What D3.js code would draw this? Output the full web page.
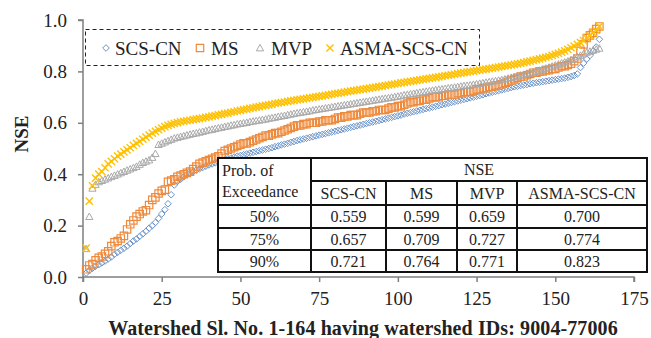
<!DOCTYPE html>
<html>
<head>
<meta charset="utf-8">
<script src="https://cdn.jsdelivr.net/npm/d3@7"></script>
<style>
  body { margin: 0; background: #fff; }
  text { font-family: "Liberation Serif", "Times New Roman", serif; }
</style>
</head>
<body>
<div id="chart"></div>
<script>
// NSE values, sorted, watershed 1..164
const scsCn = [
  0.015,0.025,0.034,0.042,0.048,0.055,0.062,0.07,0.078,0.088,
  0.096,0.104,0.112,0.12,0.13,0.14,0.148,0.158,0.168,0.178,
  0.19,0.2,0.212,0.228,0.245,0.262,0.285,0.32,0.358,0.372,
  0.38,0.39,0.398,0.405,0.41,0.416,0.421,0.426,0.431,0.436,
  0.44,0.444,0.448,0.452,0.456,0.46,0.463,0.467,0.47,0.473,
  0.476,0.479,0.482,0.485,0.488,0.491,0.494,0.497,0.5,0.503,
  0.507,0.51,0.514,0.517,0.52,0.524,0.527,0.531,0.534,0.537,
  0.54,0.543,0.546,0.549,0.552,0.555,0.558,0.561,0.564,0.567,
  0.57,0.573,0.576,0.579,0.582,0.585,0.588,0.591,0.594,0.597,
  0.6,0.603,0.606,0.609,0.612,0.615,0.618,0.621,0.624,0.627,
  0.63,0.634,0.637,0.64,0.643,0.646,0.649,0.652,0.655,0.658,
  0.661,0.664,0.667,0.67,0.673,0.676,0.679,0.682,0.685,0.688,
  0.691,0.694,0.697,0.7,0.703,0.706,0.709,0.713,0.716,0.719,
  0.722,0.725,0.728,0.731,0.734,0.737,0.74,0.742,0.745,0.747,
  0.749,0.752,0.754,0.756,0.758,0.76,0.762,0.764,0.766,0.768,
  0.77,0.772,0.774,0.777,0.78,0.784,0.79,0.815,0.832,0.848,
  0.862,0.878,0.895,0.925
];
const ms = [
  0.03,0.045,0.05,0.065,0.075,0.08,0.09,0.1,0.12,0.135,
  0.14,0.15,0.16,0.185,0.205,0.22,0.235,0.245,0.255,0.26,
  0.28,0.3,0.31,0.325,0.335,0.34,0.37,0.375,0.38,0.39,
  0.395,0.4,0.405,0.41,0.42,0.43,0.44,0.445,0.45,0.455,
  0.46,0.465,0.47,0.48,0.49,0.495,0.5,0.505,0.51,0.515,
  0.52,0.52,0.525,0.53,0.535,0.54,0.545,0.55,0.55,0.555,
  0.56,0.56,0.565,0.57,0.575,0.58,0.585,0.59,0.59,0.595,
  0.595,0.6,0.6,0.6,0.605,0.605,0.61,0.61,0.61,0.615,
  0.62,0.62,0.625,0.625,0.63,0.63,0.63,0.635,0.64,0.64,
  0.64,0.645,0.645,0.65,0.65,0.65,0.655,0.66,0.66,0.665,
  0.665,0.67,0.675,0.68,0.68,0.685,0.685,0.69,0.69,0.695,
  0.7,0.7,0.7,0.705,0.705,0.71,0.71,0.71,0.715,0.715,
  0.72,0.72,0.72,0.725,0.73,0.73,0.735,0.735,0.74,0.74,
  0.745,0.745,0.75,0.755,0.76,0.765,0.77,0.775,0.78,0.78,
  0.785,0.79,0.795,0.795,0.8,0.8,0.805,0.805,0.81,0.81,
  0.815,0.82,0.82,0.825,0.83,0.84,0.85,0.88,0.905,0.93,
  0.94,0.95,0.965,0.975
];
const mvp = [
  0.11,0.235,0.345,0.36,0.37,0.375,0.38,0.385,0.39,0.395,
  0.4,0.405,0.41,0.415,0.42,0.425,0.43,0.438,0.445,0.45,
  0.455,0.465,0.48,0.515,0.52,0.525,0.53,0.535,0.54,0.543,
  0.546,0.549,0.552,0.555,0.558,0.56,0.563,0.566,0.569,0.572,
  0.574,0.577,0.58,0.582,0.585,0.587,0.59,0.592,0.595,0.597,
  0.599,0.601,0.604,0.606,0.608,0.61,0.612,0.614,0.617,0.619,
  0.621,0.624,0.626,0.628,0.631,0.633,0.636,0.638,0.64,0.642,
  0.644,0.646,0.649,0.651,0.653,0.655,0.657,0.659,0.661,0.663,
  0.665,0.667,0.669,0.671,0.673,0.675,0.677,0.679,0.681,0.683,
  0.685,0.687,0.689,0.691,0.693,0.695,0.697,0.699,0.701,0.703,
  0.705,0.708,0.71,0.712,0.714,0.716,0.718,0.72,0.722,0.724,
  0.726,0.728,0.73,0.731,0.733,0.735,0.737,0.738,0.74,0.742,
  0.744,0.745,0.747,0.749,0.751,0.753,0.755,0.757,0.759,0.761,
  0.763,0.765,0.767,0.77,0.773,0.776,0.779,0.782,0.785,0.788,
  0.791,0.794,0.797,0.8,0.804,0.808,0.812,0.816,0.82,0.824,
  0.828,0.832,0.836,0.84,0.845,0.85,0.856,0.862,0.868,0.874,
  0.878,0.882,0.886,0.89
];
const asma = [
  0.112,0.295,0.355,0.385,0.4,0.41,0.425,0.44,0.45,0.46,
  0.47,0.478,0.487,0.495,0.503,0.512,0.52,0.528,0.536,0.544,
  0.552,0.56,0.567,0.573,0.579,0.585,0.59,0.594,0.598,0.601,
  0.604,0.606,0.608,0.61,0.612,0.614,0.616,0.618,0.621,0.623,
  0.626,0.628,0.631,0.633,0.636,0.638,0.641,0.643,0.646,0.648,
  0.651,0.653,0.656,0.658,0.661,0.663,0.666,0.668,0.67,0.672,
  0.675,0.677,0.679,0.681,0.683,0.685,0.687,0.689,0.691,0.693,
  0.695,0.697,0.699,0.701,0.703,0.705,0.707,0.709,0.711,0.713,
  0.715,0.717,0.719,0.721,0.723,0.725,0.727,0.729,0.731,0.733,
  0.735,0.737,0.739,0.741,0.743,0.745,0.747,0.749,0.751,0.753,
  0.755,0.757,0.759,0.761,0.763,0.765,0.767,0.769,0.771,0.773,
  0.775,0.777,0.779,0.781,0.783,0.785,0.787,0.789,0.791,0.793,
  0.795,0.797,0.799,0.801,0.803,0.805,0.807,0.809,0.811,0.813,
  0.815,0.817,0.819,0.821,0.823,0.825,0.827,0.829,0.831,0.834,
  0.837,0.84,0.843,0.846,0.849,0.852,0.855,0.858,0.862,0.866,
  0.87,0.875,0.88,0.886,0.892,0.898,0.905,0.912,0.92,0.93,
  0.94,0.95,0.96,0.975
];

const seriesNames = ["SCS-CN", "MS", "MVP", "ASMA-SCS-CN"];
const xTicks = [0, 25, 50, 75, 100, 125, 150, 175];
const yTicks = [0, 0.2, 0.4, 0.6, 0.8, 1.0];

// summary table
const tableHeader = ["SCS-CN", "MS", "MVP", "ASMA-SCS-CN"];
const exceedance = ["50%", "75%", "90%"];
const tableValues = [
  ["0.559", "0.599", "0.659", "0.700"],
  ["0.657", "0.709", "0.727", "0.774"],
  ["0.721", "0.764", "0.771", "0.823"]
];

const colors = ["#6a93c9", "#ee8a3c", "#a9a9a9", "#ffc000"];
const serif = "'Liberation Serif', 'Times New Roman', serif";

const W = 651, H = 338;
const svg = d3.select("#chart").append("svg")
  .attr("width", W).attr("height", H)
  .style("font-family", serif);

const x = d3.scaleLinear().domain([0, 175]).range([83, 634]);
const y = d3.scaleLinear().domain([0, 1]).range([277, 20]);

// marker shapes
function marker(kind, s) {
  if (kind === 0) return `M0,${-s}L${s},0L0,${s}L${-s},0Z`;
  if (kind === 1) return `M${-s},${-s}H${s}V${s}H${-s}Z`;
  if (kind === 2) return `M0,${-s}L${s},${s * 0.8}H${-s}Z`;
  return `M${-s},${-s}L${s},${s}M${s},${-s}L${-s},${s}`;
}
const sizes = [3.3, 3.7, 3.6, 3.6];
const widths = [1, 1.2, 1, 1.4];

// axes
const axisColor = "#7f7f7f";
const yAxis = svg.append("g")
  .attr("transform", `translate(${x(0)},0)`)
  .call(d3.axisLeft(y).tickValues(yTicks).tickFormat(d3.format(".1f")).tickSize(5).tickPadding(11));
const xAxis = svg.append("g")
  .attr("transform", `translate(0,${y(0)})`)
  .call(d3.axisBottom(x).tickValues(xTicks).tickSize(5).tickPadding(10));
[yAxis, xAxis].forEach(a => {
  a.attr("font-family", null);
  a.selectAll("path, line").attr("stroke", axisColor).attr("stroke-width", 1.5);
  a.selectAll("text").attr("fill", "#222").style("font-size", "19px")
    .style("font-family", serif);
});
yAxis.select(".domain").attr("d", `M-5,${y(1)}H0V${y(0)}`);
xAxis.select(".domain").attr("d", `M${x(0)},5V0H${x(175)}V5`);

// points
[scsCn, ms, mvp, asma].forEach((vals, k) => {
  svg.append("g")
    .selectAll("path")
    .data(vals)
    .join("path")
    .attr("transform", (d, i) => `translate(${x(i + 1)},${y(d)})`)
    .attr("d", marker(k, sizes[k]))
    .attr("fill", "none")
    .attr("stroke", colors[k])
    .attr("stroke-width", widths[k]);
});

// legend
svg.append("rect")
  .attr("x", 85.5).attr("y", 29.5).attr("width", 394).attr("height", 36)
  .attr("fill", "#fff").attr("stroke", "#222").attr("stroke-width", 1)
  .attr("stroke-dasharray", "4,3");
const legendX = [106, 200, 260, 330];
const legend = svg.append("g").selectAll("g")
  .data(seriesNames)
  .join("g")
  .attr("transform", (d, i) => `translate(${legendX[i]},48)`);
legend.append("path")
  .attr("d", (d, i) => marker(i, sizes[i]))
  .attr("fill", "none")
  .attr("stroke", (d, i) => colors[i])
  .attr("stroke-width", (d, i) => widths[i]);
legend.append("text")
  .attr("x", (d, i) => i === 3 ? 10 : (i === 0 ? 9 : 11))
  .attr("y", 7)
  .style("font-size", "19px")
  .style("font-family", serif)
  .attr("fill", "#222")
  .text(d => d);

// table
const tb = svg.append("g");
const colX = [218, 311, 386, 457, 517, 647];
const rowY = [158, 181, 205, 228, 250, 272];
tb.append("rect")
  .attr("x", colX[0]).attr("y", rowY[0])
  .attr("width", colX[5] - colX[0]).attr("height", rowY[5] - rowY[0])
  .attr("fill", "#fff").attr("stroke", "#111").attr("stroke-width", 2);
const lines = [];
lines.push([colX[1], rowY[1], colX[5], rowY[1]]);
[2, 3, 4].forEach(r => lines.push([colX[0], rowY[r], colX[5], rowY[r]]));
lines.push([colX[1], rowY[0], colX[1], rowY[5]]);
[2, 3, 4].forEach(c => lines.push([colX[c], rowY[1], colX[c], rowY[5]]));
tb.selectAll("line").data(lines).join("line")
  .attr("x1", d => d[0]).attr("y1", d => d[1])
  .attr("x2", d => d[2]).attr("y2", d => d[3])
  .attr("stroke", "#111").attr("stroke-width", 2);

const cellText = (tx, ty, s, anchor) => tb.append("text")
  .attr("x", tx).attr("y", ty).attr("text-anchor", anchor || "middle")
  .style("font-size", "16px").style("font-family", serif)
  .attr("fill", "#222").text(s);
cellText(222, 176, "Prob. of", "start");
cellText(222, 197, "Exceedance", "start");
cellText((colX[1] + colX[5]) / 2, 175, "NSE");
tableHeader.forEach((h, j) => cellText((colX[j + 1] + colX[j + 2]) / 2, 199, h));
exceedance.forEach((e, r) => {
  const ty = rowY[r + 2] + 17;
  cellText((colX[0] + colX[1]) / 2, ty, e);
  tableValues[r].forEach((v, j) => cellText((colX[j + 1] + colX[j + 2]) / 2, ty, v));
});

// axis titles
svg.append("text")
  .attr("x", 363).attr("y", 335)
  .attr("text-anchor", "middle")
  .style("font-size", "20px").style("font-weight", "bold")
  .style("letter-spacing", "0.1px")
  .style("font-family", serif)
  .attr("fill", "#222")
  .text("Watershed Sl. No. 1-164 having watershed IDs: 9004-77006");
svg.append("text")
  .attr("transform", "translate(28,134) rotate(-90)")
  .attr("text-anchor", "middle")
  .style("font-size", "19px").style("font-weight", "bold")
  .style("font-family", serif)
  .attr("fill", "#222")
  .text("NSE");
</script>
</body>
</html>
